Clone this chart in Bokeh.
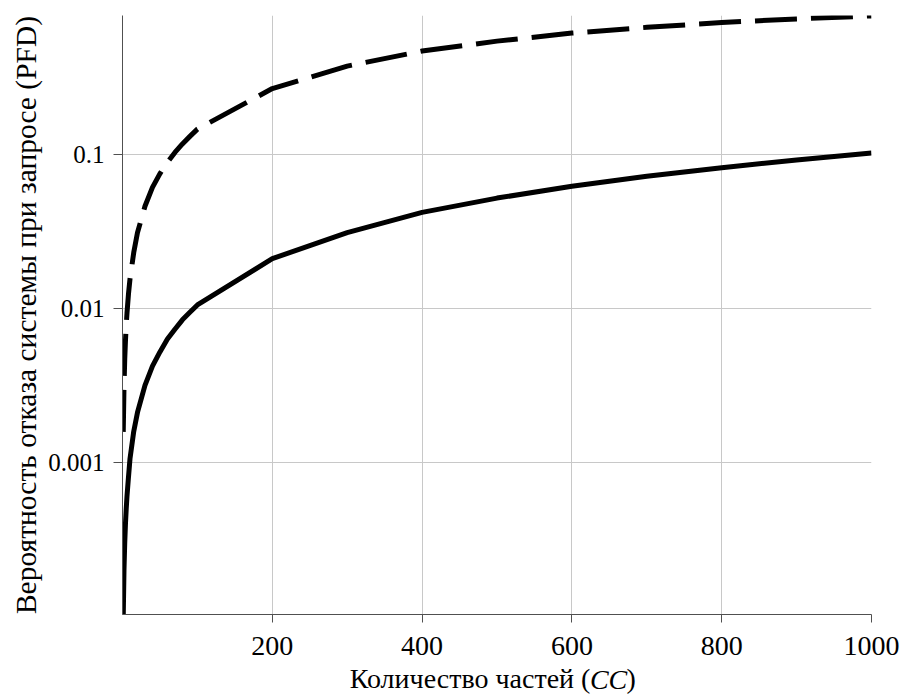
from bokeh.plotting import figure
from bokeh.models import FixedTicker, LinearAxis, Range1d
from bokeh.embed import file_html
from bokeh.resources import INLINE

# ---- data ----
cc_solid = [1, 2, 3, 4, 5, 6, 8, 10, 15, 20, 30, 40, 50, 60, 70, 80, 90, 100,
            200, 300, 400, 500, 600, 700, 800, 900, 1000]
pfd_solid = [0.0001, 0.0002, 0.0003, 0.0004, 0.0005, 0.0006, 0.0008, 0.00105,
             0.00158, 0.0021, 0.00315, 0.0042, 0.0052, 0.0063, 0.0073, 0.0084,
             0.0094, 0.0105, 0.021, 0.031, 0.042, 0.052, 0.062, 0.072, 0.082,
             0.092, 0.102]

cc_dash = [1, 2, 3, 4, 5, 6, 8, 10, 15, 20, 30, 40, 50, 60, 70, 80, 90, 100,
           200, 300, 400, 500, 600, 700, 800, 900, 1000]
pfd_dash = [0.00157, 0.0031, 0.0047, 0.0062, 0.0078, 0.0093, 0.0124, 0.0155,
            0.023, 0.031, 0.046, 0.061, 0.075, 0.089, 0.103, 0.117, 0.131,
            0.146, 0.268, 0.375, 0.47, 0.545, 0.615, 0.67, 0.72, 0.76, 0.795]

x_ticks = [200, 400, 600, 800, 1000]
y_ticks = [0.001, 0.01, 0.1]
y_tick_labels = ["0.001", "0.01", "0.1"]

# x-axis title, split so that "CC" can be italic
x_title_parts = ["Количество частей (", ")"]
x_title_italic = "CC"
y_label = "Вероятность отказа системы при запросе (PFD)"

FONT = "Liberation Serif"
GRID = "#c8c8c8"
AXIS = "#505050"

p = figure(width=900, height=697,
           x_range=Range1d(0, 1000), y_range=Range1d(1.02e-4, 0.8),
           y_axis_type="log", output_backend="svg", toolbar_location=None,
           min_border_left=122, min_border_right=29,
           min_border_top=15, min_border_bottom=83)

p.outline_line_color = None
p.background_fill_color = "white"
p.border_fill_color = "white"

p.line(cc_solid, pfd_solid, line_width=5, line_color="black")
p.line(cc_dash, pfd_dash, line_width=5, line_color="black", line_dash="42 14")

p.xaxis.ticker = FixedTicker(ticks=x_ticks, minor_ticks=[])
p.yaxis.ticker = FixedTicker(ticks=y_ticks, minor_ticks=[])
p.xgrid.ticker = FixedTicker(ticks=x_ticks, minor_ticks=[])
p.ygrid.ticker = FixedTicker(ticks=y_ticks, minor_ticks=[])
p.yaxis.major_label_overrides = dict(zip(y_ticks, y_tick_labels))

for ax in (p.xaxis[0], p.yaxis[0]):
    ax.axis_line_color = AXIS
    ax.axis_line_width = 1
    ax.major_tick_line_color = AXIS
    ax.major_tick_in = 0
    ax.minor_tick_line_color = None
    ax.major_label_text_font = FONT
    ax.major_label_text_color = "black"

p.xaxis.major_label_text_font_size = "28px"
p.yaxis.major_label_text_font_size = "25px"
p.xaxis.major_tick_out = 8
p.yaxis.major_tick_out = 9
p.xaxis.major_label_standoff = 14
p.yaxis.major_label_standoff = 9

p.yaxis.axis_label = y_label
p.yaxis.axis_label_text_font = FONT
p.yaxis.axis_label_text_font_style = "normal"
p.yaxis.axis_label_text_font_size = "29.5px"
p.yaxis.axis_label_text_color = "black"
p.yaxis.axis_label_standoff = 3

p.grid.grid_line_color = GRID
p.grid.grid_line_width = 1

# x-axis title: text-only axes placed below the main x axis
part_pos = [464, 679]     # centre positions of the plain parts (in CC units)
italic_pos = [649]        # centre position of the italic part (in CC units)

def text_axis(ticks, labels, style, standoff):
    a = LinearAxis(ticker=FixedTicker(ticks=ticks, minor_ticks=[]),
                   major_label_overrides=dict(zip(ticks, labels)))
    a.axis_line_color = None
    a.major_tick_line_color = None
    a.minor_tick_line_color = None
    a.major_tick_in = 0
    a.major_tick_out = 0
    a.major_label_text_font = FONT
    a.major_label_text_font_size = "28px"
    a.major_label_text_font_style = style
    a.major_label_text_color = "black"
    a.major_label_standoff = standoff
    return a

p.add_layout(text_axis(part_pos, x_title_parts, "normal", 5), "below")
p.add_layout(text_axis(italic_pos, [x_title_italic], "italic", -33), "below")

open("out.html", "w").write(file_html(p, INLINE))
